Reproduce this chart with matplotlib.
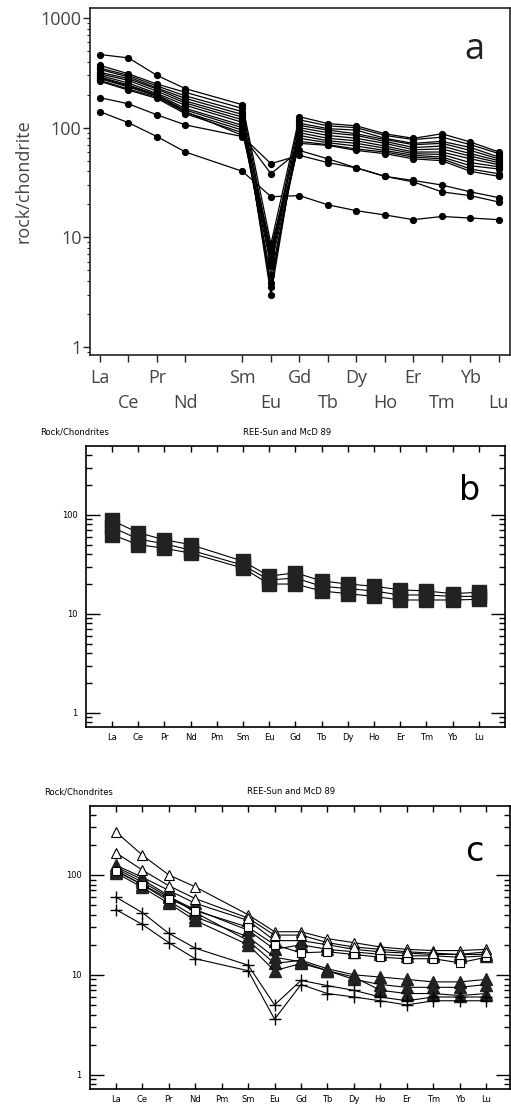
import numpy as np
import matplotlib
matplotlib.use("Agg")
import matplotlib.pyplot as plt
from matplotlib.ticker import LogLocator, NullFormatter, FixedLocator

# ---------------- data ----------------
ree_all = ["La", "Ce", "Pr", "Nd", "Pm", "Sm", "Eu", "Gd", "Tb", "Dy", "Ho", "Er", "Tm", "Yb", "Lu"]
ree = ["La", "Ce", "Pr", "Nd", "Sm", "Eu", "Gd", "Tb", "Dy", "Ho", "Er", "Tm", "Yb", "Lu"]

# panel a (rock/chondrite)
a_series = [
    [465, 433, 300, 227, 162, 8.7, 126, 109, 104, 88, 80, 88, 74, 60],
    [370, 310, 250, 210, 150, 7.0, 118, 104, 100, 85, 78, 82, 70, 58],
    [350, 300, 240, 195, 140, 3.0, 110, 98, 95, 80, 72, 75, 66, 54],
    [340, 290, 230, 185, 132, 6.3, 105, 95, 88, 78, 70, 72, 62, 52],
    [320, 280, 225, 175, 125, 3.5, 100, 90, 85, 75, 66, 68, 58, 50],
    [310, 270, 215, 168, 118, 3.8, 95, 85, 80, 72, 63, 64, 55, 48],
    [300, 255, 205, 160, 112, 8.0, 90, 80, 76, 68, 60, 60, 52, 46],
    [290, 245, 200, 150, 105, 6.0, 85, 76, 72, 65, 58, 57, 48, 44],
    [280, 235, 195, 145, 100, 4.5, 80, 73, 68, 62, 56, 54, 45, 42],
    [270, 225, 190, 138, 95, 5.5, 75, 70, 64, 60, 54, 52, 42, 38],
    [265, 220, 185, 134, 90, 7.5, 72, 69, 62, 58, 52, 50, 40, 36],
    [285, 240, 195, 140, 85, 38, 62, 52, 43, 36, 33, 30, 26, 23],
    [188, 165, 131, 106, 83, 47, 56, 48, 43, 36, 32, 26, 24, 21],
    [140, 111, 83, 60, 40, 23.5, 24, 19.8, 17.5, 16, 14.5, 15.5, 15, 14.5],
]

# panel b
b_series = [
    [88, 66, 56, 50, 34, 24, 26, 21.5, 20, 19, 17.5, 17, 16, 16.5],
    [75, 57, 51, 44, 31, 22, 23, 19, 18, 17, 15.5, 15.5, 15, 15],
    [63, 50, 46, 41, 29, 20, 20, 17, 16, 15, 13.8, 13.8, 13.8, 14],
]

# panel c
c_open_tri = [
    [270, 158, 100, 76, 40, 27, 27, 23, 21, 19, 18, 17.5, 17.5, 18],
    [167, 112, 78, 58, 37, 25, 25, 21, 19, 18, 17, 16.5, 16, 17],
]
c_filled_tri = [
    [125, 95, 70, 52, 35, 22, 22, 20, 18, 17, 16.5, 16, 16, 16],
    [115, 85, 60, 45, 28, 18, 20, 18, 17, 16, 15.5, 15.5, 15, 15.5],
    [120, 90, 62, 42, 22, 13, 14, 11.5, 10, 9.5, 9, 8.5, 8.5, 9],
    [105, 75, 52, 35, 20, 11, 13, 11, 9, 8, 7.5, 7.5, 7.5, 8],
    [110, 80, 55, 38, 24, 15, 13.5, 11, 9.5, 7, 6.5, 6.5, 6.2, 6.5],
]
c_open_sq = [
    [110, 80, 58, 44, 30, 20, 16.6, 17, 16, 15, 14.5, 14.5, 13.2, 15],
]
c_plus = [
    [60, 42, 26, 18.5, 12.5, 5.0, 8.8, 7.8, 7, 6, 5.5, 6, 6, 6],
    [45, 32, 21, 14.5, 11, 3.6, 8.0, 6.5, 6, 5.5, 5, 5.5, 5.5, 5.5],
]

xpos = [ree_all.index(e) for e in ree]

fig = plt.figure(figsize=(5.11, 11.06), dpi=100)

# ---------------- panel a ----------------
axa = fig.add_axes([0.1761, 0.679, 0.822, 0.3137])
for s in a_series:
    axa.plot(xpos, s, color="black", lw=0.9, marker="o", ms=4.2, mfc="black", mec="black")
axa.set_yscale("log")
axa.set_ylim(0.845, 1233)
axa.set_xlim(-0.35, 14.39)
axa.yaxis.set_major_locator(FixedLocator([1, 10, 100, 1000]))
axa.set_yticklabels(["1", "10", "100", "1000"])
axa.yaxis.set_minor_locator(LogLocator(base=10, subs=np.arange(2, 10)))
axa.yaxis.set_minor_formatter(NullFormatter())
axa.set_xticks(xpos)
labs = []
for i, e in enumerate(ree):
    labs.append(e if i % 2 == 0 else "\n" + e)
axa.set_xticklabels(labs, linespacing=1.5)
tc = "#444444"
axa.tick_params(axis="both", which="major", direction="out", length=5, width=1.0,
                labelsize=13, labelcolor=tc, color="#222222")
axa.tick_params(axis="y", which="minor", direction="out", length=2.5, width=0.8, color="#222222")
axa.tick_params(axis="x", pad=5)
axa.tick_params(axis="y", pad=1)
for lab in axa.get_xticklabels() + axa.get_yticklabels():
    lab.set_family("Open Sans")
for sp in axa.spines.values():
    sp.set_linewidth(1.2)
    sp.set_color("#222222")
axa.set_ylabel("rock/chondrite", fontsize=13, color=tc, family="Open Sans", labelpad=6)
axa.text(0.915, 0.88, "a", transform=axa.transAxes, fontsize=26, ha="center", va="center",
         family="Open Sans", color="#222222")


def small_panel(ax, letter):
    ax.set_yscale("log")
    ax.set_xlim(-0.99, 15.0)
    ax.set_ylim(0.72, 495)
    ax.set_xticks(range(len(ree_all)))
    ax.set_xticklabels(ree_all)
    ax.yaxis.set_major_locator(FixedLocator([1, 10, 100]))
    ax.set_yticklabels(["1", "10", "100"])
    ax.yaxis.set_minor_locator(LogLocator(base=10, subs=np.arange(2, 10)))
    ax.yaxis.set_minor_formatter(NullFormatter())
    ax.tick_params(axis="x", which="major", direction="in", length=4.5, width=1.0,
                   top=True, bottom=True, labelsize=6, pad=4)
    ax.tick_params(axis="y", which="major", direction="in", length=10, width=1.0,
                   left=True, right=True, labelsize=6, pad=6)
    ax.tick_params(axis="y", which="minor", direction="in", length=4.5, width=1.0,
                   left=True, right=True)
    for sp in ax.spines.values():
        sp.set_linewidth(1.2)
    ax.text(0.915, 0.84, letter, transform=ax.transAxes, fontsize=24, ha="center", va="center")
    ax.text(-0.11, 1.05, "Rock/Chondrites", transform=ax.transAxes, fontsize=6, ha="left", va="center")
    ax.text(0.48, 1.05, "REE-Sun and McD 89", transform=ax.transAxes, fontsize=6, ha="center", va="center")


# ---------------- panel b ----------------
axb = fig.add_axes([0.1683, 0.3427, 0.82, 0.254])
for s in b_series:
    axb.plot(xpos, s, color="black", lw=0.8, marker="s", ms=9.5, mfc="#222222", mec="#222222")
small_panel(axb, "b")

# ---------------- panel c ----------------
axc = fig.add_axes([0.176, 0.01537, 0.822, 0.2559])
for s in c_filled_tri:
    axc.plot(xpos, s, color="black", lw=0.8, marker="^", ms=8.5, mfc="#222222", mec="#222222")
for s in c_open_sq:
    axc.plot(xpos, s, color="black", lw=0.8, marker="s", ms=6, mfc="white", mec="black", mew=0.8)
for s in c_open_tri:
    axc.plot(xpos, s, color="black", lw=0.8, marker="^", ms=7, mfc="white", mec="black", mew=0.8)
for s in c_plus:
    axc.plot(xpos, s, color="black", lw=0.8, marker="+", ms=9, mec="black", mew=1.0)
small_panel(axc, "c")
axc.set_xlim(-0.98, 14.9)
axc.set_ylim(0.72, 490)

fig.savefig("out.png", dpi=100)
